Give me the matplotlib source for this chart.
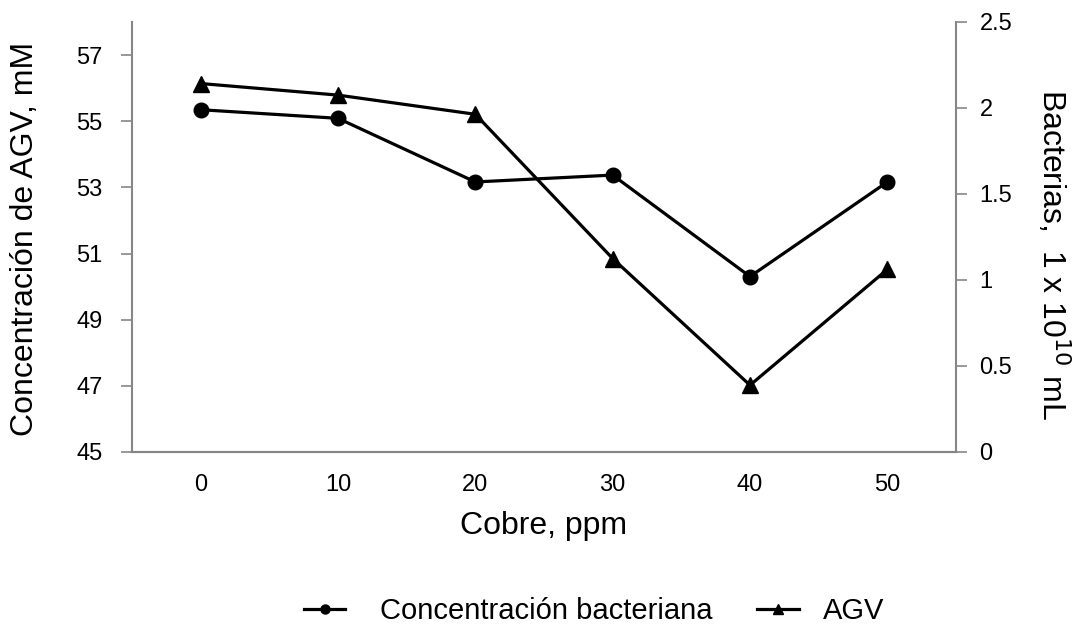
import matplotlib
matplotlib.use("Agg")
import matplotlib.pyplot as plt
from matplotlib.lines import Line2D

plt.rcParams['font.family'] = ['Liberation Sans', 'DejaVu Sans']

categories = ["0", "10", "20", "30", "40", "50"]
agv = [56.14, 55.79, 55.21, 50.85, 47.02, 50.52]          # left axis, mM
bacterias = [1.99, 1.94, 1.57, 1.61, 1.02, 1.57]          # right axis, 1x10^10 /mL
left_ticks = [45, 47, 49, 51, 53, 55, 57]
right_ticks = [0, 0.5, 1, 1.5, 2, 2.5]
right_tick_labels = ["0", "0.5", "1", "1.5", "2", "2.5"]

W, H = 1073, 634
fig = plt.figure(figsize=(W/100, H/100), dpi=100)
x0, x1, y0, y1 = 132, 956, 22, 452
ax = fig.add_axes([x0/W, 1-y1/H, (x1-x0)/W, (y1-y0)/H])
ax2 = ax.twinx()

x = list(range(len(categories)))
gray = '#868686'

ax.plot(x, agv, color='black', lw=2.3, marker='^', ms=11, label='AGV')
ax2.plot(x, bacterias, color='black', lw=2.3, marker='o', ms=10.5,
         label='Concentración bacteriana')

ax.set_xlim(-0.5, len(categories) - 0.5)
ax.set_ylim(45, 58)
ax2.set_ylim(0, 2.5)
ax.set_xticks(x)
ax.set_xticklabels(categories)
ax.set_yticks(left_ticks)
ax2.set_yticks(right_ticks)
ax2.set_yticklabels(right_tick_labels)

for a in (ax, ax2):
    a.spines['top'].set_visible(False)
    for s in ('left', 'right', 'bottom'):
        a.spines[s].set_color(gray)
        a.spines[s].set_linewidth(1.5)
ax.tick_params(axis='y', direction='out', length=8, width=1.2, color=gray,
               labelsize=17, pad=13)
ax2.tick_params(axis='y', direction='out', length=8, width=1.2, color=gray,
                labelsize=17, pad=9)
ax2.spines['left'].set_visible(False)
ax.spines['right'].set_visible(False)
ax.tick_params(axis='x', length=0, labelsize=17, pad=16)

pw, ph = x1 - x0, y1 - y0
ax.set_xlabel('Cobre, ppm', fontsize=23)
ax.xaxis.set_label_coords(0.5, (y1 - 526) / ph)
ax.xaxis.label.set_va('center')

ax.set_ylabel('Concentración de AGV, mM', fontsize=23)
ax.yaxis.set_label_coords((25 - x0) / pw, (y1 - 239) / ph)
ax.yaxis.label.set_va('center')
ax.yaxis.label.set_ha('center')

ax2.set_ylabel('Bacterias,  1 x 10$^{10}$ mL', fontsize=23, rotation=270)
ax2.yaxis.set_label_coords((1053 - x0) / pw, (y1 - 255) / ph)
ax2.yaxis.label.set_va('center')
ax2.yaxis.label.set_ha('center')

h1 = Line2D([], [], color='black', lw=2.3, marker='o', ms=6.5)
h2 = Line2D([], [], color='black', lw=2.3, marker='^', ms=6.5)
leg1 = fig.legend([h1], ['Concentración bacteriana'], loc='center left',
                  bbox_to_anchor=(304/W, 1-611/H), frameon=False, fontsize=21,
                  borderpad=0, borderaxespad=0, handlelength=1.41,
                  handletextpad=1.2)
leg2 = fig.legend([h2], ['AGV'], loc='center left',
                  bbox_to_anchor=(757/W, 1-611/H), frameon=False, fontsize=21,
                  borderpad=0, borderaxespad=0, handlelength=1.45,
                  handletextpad=0.8)

fig.savefig('out.png', dpi=100)
